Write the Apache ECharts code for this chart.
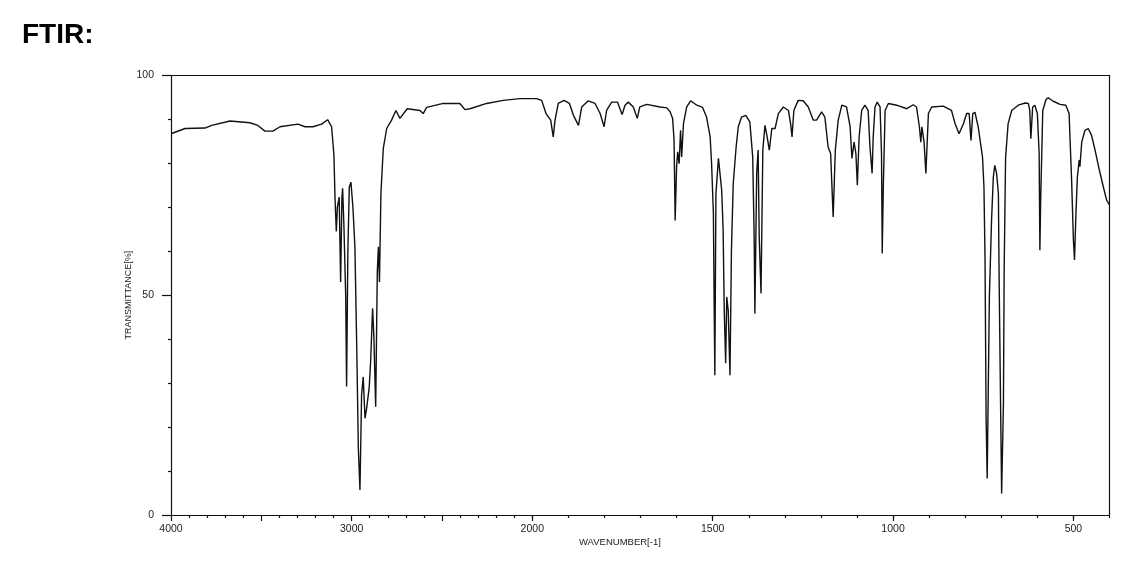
<!DOCTYPE html>
<html>
<head>
<meta charset="utf-8">
<script src="https://cdn.jsdelivr.net/npm/echarts@6/dist/echarts.min.js"></script>
<style>
html,body{margin:0;padding:0;background:#fff;}
#chart{width:1138px;height:562px;}
</style>
</head>
<body>
<div id="chart"></div>
<script>
// ---- data ----
const wavenumber = [4000,3922,3812,3775,3673,3563,3519,3480,3436,3397,3297,3258,3214,3166,3133,3111,3098,3092,3085,3079,3069,3061,3054,3050,3043,3033,3028,3021,3013,3004,2997,2993,2982,2972,2963,2954,2945,2936,2926,2917,2903,2895,2884,2877,2867,2858,2852,2846,2838,2825,2806,2779,2755,2733,2692,2622,2604,2585,2493,2401,2373,2345,2253,2161,2069,2000,
1988,1974,1962,1949,1942,1937,1928,1912,1897,1886,1872,1863,1845,1826,1812,1801,1794,1780,1764,1757,1751,1743,1734,1720,1709,1702,1683,1646,1627,1618,1611,1607,1604,1600,1597,1593,1589,1586,1581,1572,1561,1544,1528,1517,1507,1503,1498,1496,1494,1491,1484,1480,1475,1471,1468,1464,1461,1457,1452,1448,1443,1435,1429,1420,1408,1397,1389,1385,1383,1378,1374,1371,1366,1361,1355,1349,1343,1336,1327,1318,1304,1290,1284,1280,1275,1263,1249,1235,1221,1212,1198,1189,1180,1173,1169,1166,1160,1152,1142,1129,1119,1114,1108,1103,1099,1094,1087,1078,1069,1064,1058,1055,1050,1044,1036,1032,1030,1027,1022,1013,990,962,944,935,927,923,920,914,909,902,893,861,838,828,817,805,796,789,784,779,773,764,752,748,745,742,739,733,727,722,718,713,708,706,702,699,694,692,688,681,671,653,634,625,621,618,613,607,600,595,593,591,585,576,570,556,537,521,512,505,500,497,493,489,484,482,477,468,459,450,440,428,417,408,400];
const transmittance = [86.7,87.9,88.0,88.6,89.6,89.2,88.6,87.3,87.3,88.3,88.9,88.3,88.3,88.9,89.9,88.3,81.8,72,64.5,70,72.3,53,72,74.3,66,50,29.2,60,74.6,75.7,75.5,70,61,38.6,15.2,5.7,27.3,31.4,22,24.3,28.9,34.8,47,40.5,24.6,55.3,61,53,73,83.3,87.9,89.8,92,90.2,92.4,92,91.3,92.7,93.6,93.6,92.2,92.4,93.6,94.3,94.7,94.7,
94.7,94.3,91.3,89.8,86,89.8,93.6,94.3,93.6,90.9,88.6,92.8,94.2,93.6,91.3,88.3,92,93.9,93.9,92.4,91.1,93.2,93.9,92.8,90.2,92.8,93.4,92.8,92.6,91.7,90.2,85.2,67,79.2,82.6,79.9,87.5,81.4,89,92.8,94.2,93.2,92.7,90.5,86,79.9,68.6,48.9,31.8,73.1,81.1,80.7,73.9,64.8,46.6,34.5,49.6,46.6,31.8,60.2,75.4,83.7,88.3,90.5,90.9,89.4,81.4,63.3,45.8,77.7,83,63.3,50.4,83,88.6,86,83,87.9,87.9,91.3,92.8,92,89,86,92,94.3,94.2,92.8,89.8,89.8,91.7,90.5,83.7,82.2,73.9,67.8,83,89.8,93.2,92.8,88.3,81.1,84.8,82.2,75,86,92,93.2,92,83.7,77.7,86,92.8,93.9,92.8,82.2,59.5,74.6,92,93.6,93.2,92.4,93.3,92.8,88.3,84.8,88.3,84.8,77.7,91.3,92.8,93,92,89,86.7,89,91.3,91.3,85.2,91.3,91.6,88.3,81.4,74.6,58,21.6,8.3,49.6,67,76.9,79.5,77.7,73.1,54.2,25.4,4.9,25.4,55.7,81.4,89,92,93.2,93.7,93.6,92,85.6,92.8,93.2,91.3,82.2,60.2,70.8,92,94.5,94.9,94.1,93.4,93.2,91.3,76.1,62.5,58,68.6,76.9,80.7,79.2,84.8,87.5,87.9,86.4,83,78.4,74.6,71.6,70.5];

const xLabelsHigh = [4000, 3000, 2000];   // left (compressed) part
const xLabelsLow = [1500, 1000, 500];     // right (expanded) part
const yLabels = [0, 50, 100];
const titleText = 'FTIR:';
const xName = 'WAVENUMBER[-1]';
const yName = 'TRANSMITTANCE[%]';

// split into the two scale regions (scale changes at 2000)
const highPart = [], lowPart = [];
wavenumber.forEach((w, i) => {
  if (w >= 2000) highPart.push([w, transmittance[i]]);
  if (w <= 2000) lowPart.push([w, transmittance[i]]);
});

const INK = '#111';
const lblFont = "'Liberation Sans', Arial, sans-serif";
const plain = v => String(v);

const chart = echarts.init(document.getElementById('chart'), null, {renderer: 'canvas'});
const lineOnly = (gridIndex, min, max, position) => ({
  type: 'value', gridIndex, min, max, inverse: true, position,
  axisLine: {show: true, lineStyle: {color: INK, width: 1.2}},
  axisTick: {show: false}, axisLabel: {show: false}, splitLine: {show: false}
});

chart.setOption({
  animation: false,
  backgroundColor: '#fff',
  title: [
    {text: titleText, left: 17, top: 16,
     textStyle: {fontFamily: lblFont, fontWeight: 'bold', fontSize: 28, color: '#000'}},
    {text: xName, left: 574, top: 532,
     textStyle: {fontFamily: lblFont, fontWeight: 'normal', fontSize: 9.5, color: '#222'}}
  ],
  grid: [
    {left: 171, right: 605.7, top: 75.3, bottom: 47, containLabel: false},
    {left: 532.3, right: 28.5, top: 75.3, bottom: 47, containLabel: false}
  ],
  xAxis: [
    { // 0: left region, bottom, major ticks every 500, minor every 100
      type: 'value', gridIndex: 0, min: 2000, max: 4000, interval: 500, inverse: true, position: 'bottom',
      axisLine: {show: true, lineStyle: {color: INK, width: 1.2}},
      axisTick: {show: true, length: 6, lineStyle: {color: INK, width: 1.2}},
      minorTick: {show: true, splitNumber: 5, length: 3, lineStyle: {color: INK, width: 1.2}},
      axisLabel: {show: true, customValues: xLabelsHigh, formatter: plain, margin: 9, fontSize: 10.5, fontFamily: lblFont, color: '#222'},
      splitLine: {show: false}, minorSplitLine: {show: false}
    },
    lineOnly(0, 2000, 4000, 'top'), // 1: top frame
    { // 2: right region minor ticks every 100
      type: 'value', gridIndex: 1, min: 400, max: 2000, interval: 100, inverse: true, position: 'bottom',
      axisLine: {show: true, lineStyle: {color: INK, width: 1.2}},
      axisTick: {show: true, length: 3, lineStyle: {color: INK, width: 1.2}},
      axisLabel: {show: false}, splitLine: {show: false}
    },
    { // 3: right region major ticks + labels
      type: 'value', gridIndex: 1, min: 400, max: 2000, inverse: true, position: 'bottom',
      axisLine: {show: false},
      axisTick: {show: true, length: 6, customValues: xLabelsLow, lineStyle: {color: INK, width: 1.2}},
      axisLabel: {show: true, customValues: xLabelsLow, formatter: plain, margin: 9, fontSize: 10.5, fontFamily: lblFont, color: '#222'},
      splitLine: {show: false}
    },
    lineOnly(1, 400, 2000, 'top') // 4: top frame
  ],
  yAxis: [
    {
      type: 'value', gridIndex: 0, min: 0, max: 100, interval: 50, position: 'left',
      name: yName, nameLocation: 'middle', nameGap: 28, nameRotate: 90,
      nameTextStyle: {fontFamily: lblFont, fontSize: 9, color: '#222'},
      axisLine: {show: true, lineStyle: {color: INK, width: 1.2}},
      axisTick: {show: true, length: 9, lineStyle: {color: INK, width: 1.2}},
      minorTick: {show: true, splitNumber: 5, length: 3, lineStyle: {color: INK, width: 1.2}},
      axisLabel: {show: true, customValues: yLabels, formatter: plain, margin: 17, fontSize: 10.5, fontFamily: lblFont, color: '#222'},
      splitLine: {show: false}, minorSplitLine: {show: false}
    },
    {
      type: 'value', gridIndex: 1, min: 0, max: 100, position: 'right',
      axisLine: {show: true, lineStyle: {color: INK, width: 1.2}},
      axisTick: {show: false}, axisLabel: {show: false}, splitLine: {show: false}
    }
  ],
  series: [
    {type: 'line', xAxisIndex: 0, yAxisIndex: 0, data: highPart, symbol: 'none',
     lineStyle: {color: INK, width: 1.4}, silent: true},
    {type: 'line', xAxisIndex: 2, yAxisIndex: 1, data: lowPart, symbol: 'none',
     lineStyle: {color: INK, width: 1.4}, silent: true}
  ]
});
</script>
</body>
</html>
